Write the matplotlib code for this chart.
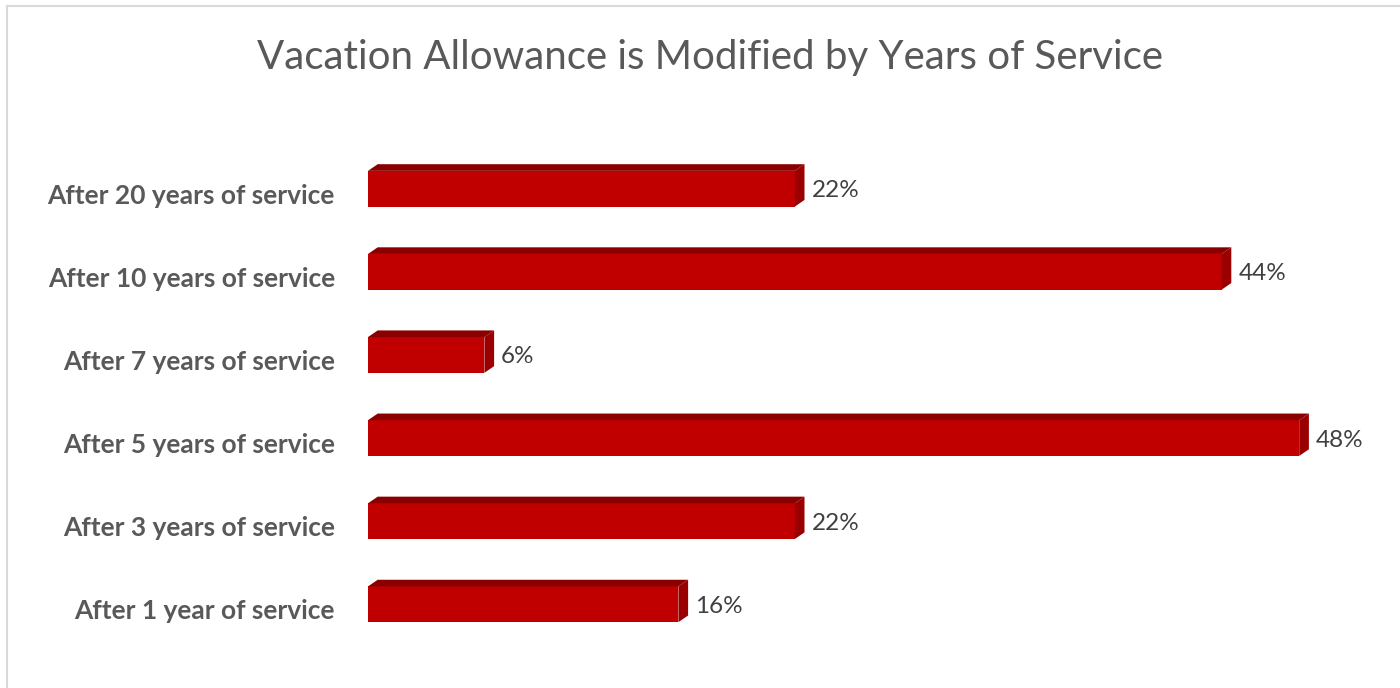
import matplotlib
matplotlib.use("Agg")
import matplotlib.pyplot as plt
from matplotlib.patches import Polygon
from matplotlib.lines import Line2D

categories = [
    "After 20 years of service",
    "After 10 years of service",
    "After 7 years of service",
    "After 5 years of service",
    "After 3 years of service",
    "After 1 year of service",
]
values = [22, 44, 6, 48, 22, 16]
title = "Vacation Allowance is Modified by Years of Service"

FRONT = "#c00000"
TOP = "#8a0000"
SIDE = "#9a0000"
TEXT = "#595959"

fig = plt.figure(figsize=(14, 6.88), dpi=100)
fig.patch.set_facecolor("white")

W, H = 1400, 688
ax = fig.add_axes([368 / W, 1 - 650 / H, (W - 368) / W, (650 - 143) / H])
ax.set_xlim(0, 1032 / 19.4)
n = len(categories)
ys = list(range(n - 1, -1, -1))
ax.set_ylim(-0.55, n - 0.45)

bar_h = 0.43
dx = 0.5     # bar depth along x (value units)
dy = 0.08    # bar depth along y (category units)

for y, v in zip(ys, values):
    ax.barh(y, v, height=bar_h, color=FRONT, edgecolor="none", zorder=2)
    top = y + bar_h / 2
    bot = y - bar_h / 2
    ax.add_patch(Polygon([(0, top), (v, top), (v + dx, top + dy), (dx, top + dy)],
                         closed=True, facecolor=TOP, edgecolor="none", zorder=2))
    ax.add_patch(Polygon([(v, bot), (v, top), (v + dx, top + dy), (v + dx, bot + dy)],
                         closed=True, facecolor=SIDE, edgecolor="none", zorder=2))
    ax.annotate(f"{v}%", xy=(v + dx, y), xytext=(7, -2), textcoords="offset pixels",
                ha="left", va="center", fontsize=17.5, color="#404040", family="Lato")

for y, cat in zip(ys, categories):
    ax.annotate(cat, xy=(0, y), xycoords=("axes fraction", "data"),
                xytext=(-33, -7), textcoords="offset pixels",
                ha="right", va="center", fontsize=19, fontweight="bold",
                color=TEXT, family="Lato")

ax.set_xticks([])
ax.set_yticks([])
for s in ax.spines.values():
    s.set_visible(False)

fig.text(0.507, 1 - 58 / H, title, ha="center", va="center",
         fontsize=29, color=TEXT, family="Lato")

# thin frame on the left and top edges
fig.add_artist(Line2D([6.5 / W, 6.5 / W], [0, 1 - 5.5 / H], color="#d9d9d9", lw=1.5))
fig.add_artist(Line2D([6.5 / W, 1], [1 - 5.5 / H, 1 - 5.5 / H], color="#d9d9d9", lw=1.5))

fig.savefig("out.png", dpi=100)
